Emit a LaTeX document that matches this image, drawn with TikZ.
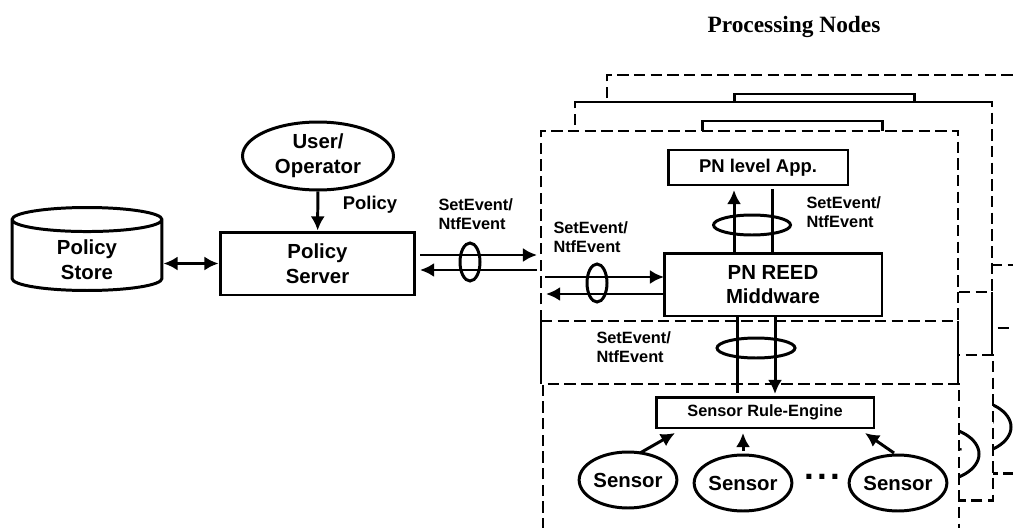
\documentclass[tikz,border=0pt]{standalone}
\usepackage{fontspec}
\setmainfont{Liberation Sans}
\newfontfamily\titlefont{Liberation Serif}
\usetikzlibrary{arrows.meta,shapes.geometric}

% frame of one processing node, front or back
\newcommand{\pnframe}{
    \fill[white] (541,131) rectangle (959,529.5);
    \draw[framedash] (541,321) |- (958,131) -- (958,321);
    \draw[framethin] (541,321) -- (541,384) (958,321) -- (958,384);
    \draw[framedash] (541,321) -- (958,321);
    \draw[framedash] (543,529.5) |- (959,384) -- (959,529.5) -- cycle;
}

\begin{document}
\begin{tikzpicture}[
            x=0.02cm, y=-0.02cm,
            -{Latex[length=8pt,width=8pt]}, % arrow head style
            line width=1.7pt,
            framedash/.style={-, dash pattern=on 6.5pt off 3pt, line width=1.3pt},
            framethin/.style={-, line width=0.7pt},
            box/.style={-, draw, rectangle, line width=1.7pt, inner sep=0pt, align=center},
            oval/.style={-, draw, ellipse, line width=1.7pt, inner sep=0pt, align=center},
            ring/.style={-, draw, ellipse, line width=1.7pt, inner sep=0pt},
            lbl/.style={inner sep=0pt, align=left, anchor=west, font=\fontsize{9.3}{10.8}\selectfont\bfseries},
            big/.style={font=\fontsize{11.6}{14}\selectfont\bfseries}
            ]
            \clip (0,0) rectangle (1013,527);

            % back frames
            \foreach \dx/\dy in {66/-56, 34/-29}{
                \begin{scope}[shift={(\dx,\dy)}]
                    \pnframe
                    \draw[box] (668,150) rectangle (848,185);
                    \draw[-, line width=1.7pt] (898,483) ellipse (47 and 28);
                    \node[inner sep=0pt, big] (tail\dx) at (924,483) {r};
                \end{scope}
            }
            \draw[framethin] (575,102) -- (992,102);
            \pnframe

            \node[oval, big, minimum width=3.02cm, minimum height=1.36cm] (user) at (318,156) {User/\\Operator};
            \node[box, big, minimum width=3.9cm, minimum height=1.26cm] (server) at (317.5,263.5) {Policy\\Server};
            \node[-, draw, cylinder, shape border rotate=90, aspect=0.4, line width=1.7pt, inner sep=0pt, align=center, big,
                minimum width=3cm, minimum height=1.66cm, anchor=shape center] (store) at (87,249)
                {\raisebox{-2.3pt}[\height][\depth]{Policy}\\\raisebox{-2.3pt}[\height][\depth]{Store}};
            \node[box, font=\fontsize{10.5}{12}\selectfont\bfseries, minimum width=3.6cm, minimum height=0.7cm] (app) at (758,167.5) {PN level App.};
            \node[box, big, minimum width=4.36cm, minimum height=1.26cm] (reed) at (773,284.5) {PN REED\\Middware};
            \node[box, lbl, anchor=center, minimum width=4.36cm, minimum height=0.62cm] (engine) at (765,412.5) {Sensor Rule-Engine};
            \node[oval, big, minimum width=1.88cm, minimum height=1.12cm] (sensor1) at (628,480) {Sensor};
            \node[oval, big, minimum width=1.88cm, minimum height=1.12cm] (sensor2) at (743,483) {Sensor};
            \node[oval, big, minimum width=1.88cm, minimum height=1.12cm] (sensor3) at (898,483) {Sensor};

            \node[inner sep=0pt, font=\fontsize{13.3}{15}\selectfont\titlefont\bfseries] (title) at (794,27) {Processing Nodes};
            \node[inner sep=0pt, font=\fontsize{10.5}{12}\selectfont\bfseries] (policy) at (370,205) {Policy};
            \node[inner sep=0pt, anchor=base, font=\fontsize{20}{20}\selectfont\bfseries] (dots) at (822,479) {.\kern1.8pt.\kern1.8pt.};
            \node[lbl] (ntf1) at (437,214) {SetEvent/\\NtfEvent};
            \node[lbl] (ntf2) at (552,237) {SetEvent/\\NtfEvent};
            \node[lbl] (ntf3) at (805,212) {SetEvent/\\NtfEvent};
            \node[lbl] (ntf4) at (595,347) {SetEvent/\\NtfEvent};

            % free ends of the parallel lines
            \coordinate (a1) at (420,255);
            \coordinate (a2) at (537,255);
            \coordinate (b1) at (537,270);
            \coordinate (b2) at (420,270);
            \coordinate (c1) at (545,277);
            \coordinate (c2) at (664,277);
            \coordinate (d1) at (664,294);
            \coordinate (d2) at (546,294);
            \coordinate (e1) at (734,253);
            \coordinate (e2) at (734,190);
            \coordinate (f1) at (772,253);
            \coordinate (f2) at (772,189);
            \coordinate (g1) at (737,316);
            \coordinate (g2) at (737,393);
            \coordinate (h1) at (775,316);
            \coordinate (h2) at (775,394);
            \coordinate (s1) at (640,453);
            \coordinate (s2) at (675,433);
            \coordinate (s3) at (743,451);
            \coordinate (s4) at (743,433);
            \coordinate (s5) at (894,453);
            \coordinate (s6) at (865,433);

            \draw (user) -- (server);
            \draw[{Latex[length=8pt,width=8pt]}-{Latex[length=8pt,width=8pt]}] (store.east |- server) -- (server);
            \draw (a1) -- (a2);
            \draw (b1) -- (b2);
            \draw (c1) -- (c2);
            \draw (d1) -- (d2);
            \draw (e1) -- (e2);
            \draw[-] (f1) -- (f2);
            \draw[-] (g1) -- (g2);
            \draw (h1) -- (h2);
            \draw (s1) -- (s2);
            \draw (s3) -- (s4);
            \draw (s5) -- (s6);

            \node[ring, minimum width=0.4cm, minimum height=0.76cm] (ring1) at (470,262) {};
            \node[ring, minimum width=0.4cm, minimum height=0.76cm] (ring2) at (597,283) {};
            \node[ring, minimum width=1.54cm, minimum height=0.4cm] (ring3) at (752,225) {};
            \node[ring, minimum width=1.56cm, minimum height=0.4cm] (ring4) at (756,348) {};
        \end{tikzpicture}
\end{document}
